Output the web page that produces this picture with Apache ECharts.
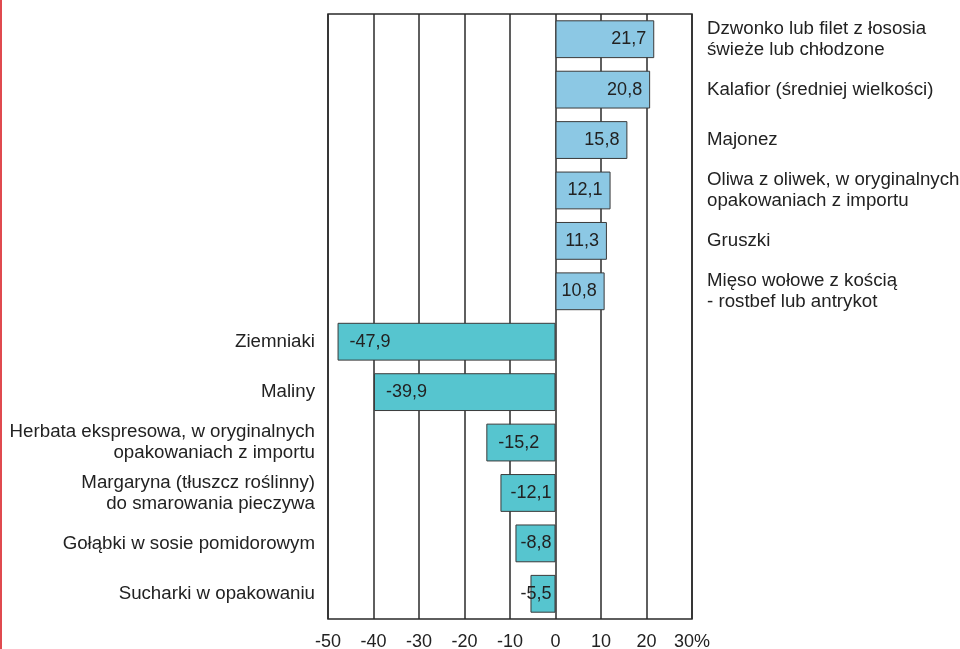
<!DOCTYPE html>
<html>
<head>
<meta charset="utf-8">
<script src="https://cdn.jsdelivr.net/npm/echarts@6/dist/echarts.min.js"></script>
<style>html,body{margin:0;padding:0;background:#fff}#c{width:960px;height:649px}</style>
</head>
<body>
<div id="c"></div>
<script>
const categories = [
  'Dzwonko lub filet z łososia\nświeże lub chłodzone',
  'Kalafior (średniej wielkości)',
  'Majonez',
  'Oliwa z oliwek, w oryginalnych\nopakowaniach z importu',
  'Gruszki',
  'Mięso wołowe z kością\n- rostbef lub antrykot',
  'Ziemniaki',
  'Maliny',
  'Herbata ekspresowa, w oryginalnych\nopakowaniach z importu',
  'Margaryna (tłuszcz roślinny)\ndo smarowania pieczywa',
  'Gołąbki w sosie pomidorowym',
  'Sucharki w opakowaniu'
];
const values = [21.7, 20.8, 15.8, 12.1, 11.3, 10.8, -47.9, -39.9, -15.2, -12.1, -8.8, -5.5];
const xTicks = [-50, -40, -30, -20, -10, 0, 10, 20, 30];

const posColor = '#8cc8e4';
const negColor = '#56c5cf';
const font = '"Liberation Sans", Arial, sans-serif';

const data = values.map(v => {
  let pos, dist;
  if (v >= 0) { pos = 'insideRight'; dist = 8; }
  else if (v < -13) { pos = 'insideLeft'; dist = 12; }
  else { pos = 'insideRight'; dist = 4; }
  return {
    value: v,
    itemStyle: { color: v >= 0 ? posColor : negColor },
    label: { position: pos, distance: dist }
  };
});

const chart = echarts.init(document.getElementById('c'));
chart.setOption({
  animation: false,
  graphic: [{ type: 'rect', left: 0, top: 0, shape: { width: 2, height: 649 }, style: { fill: '#e04a4f' } }],
  grid: { left: 328, right: 268, top: 14, bottom: 30, show: true, borderColor: '#2a2a2a', borderWidth: 1.5, containLabel: false, outerBoundsMode: 'none' },
  xAxis: {
    type: 'value', min: xTicks[0], max: xTicks[xTicks.length - 1], interval: 10,
    axisLine: { show: false }, axisTick: { show: false },
    splitLine: { show: true, lineStyle: { color: '#2a2a2a', width: 1.5 } },
    axisLabel: {
      margin: 14, color: '#222', fontSize: 18, fontFamily: font,
      formatter: v => v === xTicks[xTicks.length - 1] ? v + '%' : String(v)
    }
  },
  yAxis: [
    {
      type: 'category', data: categories, inverse: true, position: 'left',
      axisLine: { show: false }, axisTick: { show: false }, splitLine: { show: false },
      axisLabel: {
        margin: 13, color: '#222', fontSize: 18.7, fontFamily: font, lineHeight: 21, align: 'right',
        formatter: (val, i) => values[i] < 0 ? val : ''
      }
    },
    {
      type: 'category', data: categories, inverse: true, position: 'right',
      axisLine: { show: false }, axisTick: { show: false }, splitLine: { show: false },
      axisLabel: {
        margin: 15, color: '#222', fontSize: 18.7, fontFamily: font, lineHeight: 21, align: 'left',
        formatter: (val, i) => values[i] >= 0 ? val : ''
      }
    }
  ],
  series: [{
    type: 'bar', data: data, barWidth: '75%',
    itemStyle: { borderColor: '#3a3a3a', borderWidth: 1 },
    label: {
      show: true, color: '#222', fontSize: 18, fontFamily: font,
      formatter: p => String(p.value).replace('.', ',')
    }
  }]
});
</script>
</body>
</html>
